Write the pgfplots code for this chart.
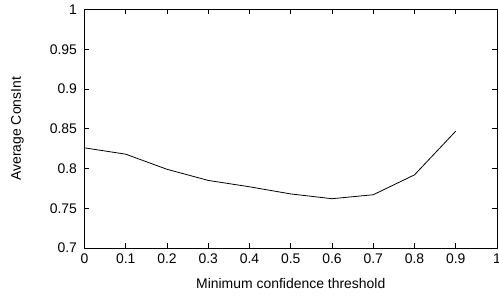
\documentclass[border=0pt]{standalone}
\usepackage{fontspec}
\setmainfont{Liberation Sans}
\usepackage{pgfplots}
\pgfplotsset{compat=1.18}
\begin{document}
\begin{tikzpicture}
\begin{axis}[
  at={(0,0)}, anchor=south west,
  scale only axis,
  width=412.5bp, height=238.5bp,
  xmin=0, xmax=1, ymin=0.7, ymax=1,
  xtick={0,0.1,...,1.0},
  ytick={0.7,0.75,...,1.0},
  xticklabels={0,0.1,0.2,0.3,0.4,0.5,0.6,0.7,0.8,0.9,1},
  yticklabels={0.7,0.75,0.8,0.85,0.9,0.95,1},
  tick align=inside,
  major tick length=5bp,
  tick style={black, line width=0.8pt},
  axis line style={line width=0.9pt},
  ticklabel style={font=\fontsize{14}{16}\selectfont},
  xticklabel style={yshift=-2bp},
  yticklabel style={xshift=-4bp},
  label style={font=\fontsize{14}{16}\selectfont},
  xlabel={Minimum confidence threshold},
  ylabel={Average ConsInt},
  xlabel style={at={(axis description cs:0.5,0)}, anchor=base, yshift=-40bp},
  ylabel style={at={(axis description cs:0,0.5)}, anchor=center, yshift=67bp},
  /pgf/number format/assume math mode=true,
]
\addplot[black, line width=0.8pt] coordinates {
(0,0.826) (0.1,0.818) (0.2,0.799) (0.3,0.785) (0.4,0.777)
(0.5,0.768) (0.6,0.762) (0.7,0.767) (0.8,0.792) (0.9,0.847)
};
\end{axis}
\pgfresetboundingbox
\useasboundingbox (-84.5bp,-48bp) rectangle (414.5bp,248bp);
\end{tikzpicture}
\end{document}
